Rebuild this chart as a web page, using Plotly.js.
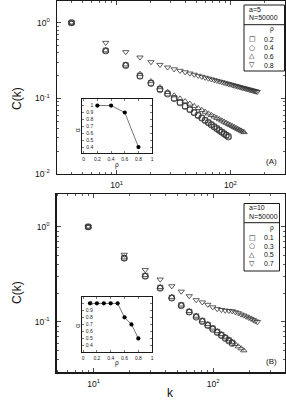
<!DOCTYPE html>
<html>
<head>
<meta charset="utf-8">
<script src="https://cdn.plot.ly/plotly-3.0.1.min.js"></script>
<style>html,body{margin:0;padding:0;background:#fff;}#chart{width:286px;height:401px;}</style>
</head>
<body>
<div id="chart"></div>
<script>
// ---------- Panel A (a=5, N=50000) ----------
const kA_02 = [4,8,12,16,20,24,28,32,36,40,44,48,52,56,60,64,68,72,76,80,84,88,92,96];
const cA_02 = [1.0,0.428,0.275,0.199,0.160,0.133,0.116,0.1005,0.0885,0.0792,0.0716,0.0653,0.0600,0.0555,0.0515,0.0481,0.0451,0.0424,0.0401,0.0379,0.0360,0.0343,0.0327,0.0313];
const kA_04 = [4,8,12,16,20,24,28,32,36,40,44,48,52,56,60,64,68,72,76,80,84,88,92,96];
const cA_04 = [1.0,0.424,0.271,0.196,0.157,0.130,0.114,0.0990,0.0873,0.0781,0.0706,0.0644,0.0591,0.0547,0.0508,0.0475,0.0445,0.0419,0.0396,0.0375,0.0356,0.0339,0.0323,0.0309];
const kA_06 = [4,8,12,16,20,24,28,32,36,40,44,48,52,56,60,64,68,72,76,80,84,88,92,96,100,104,108,112,116,120,124,128,132];
const cA_06 = [1.0,0.430,0.280,0.210,0.168,0.140,0.121,0.1089,0.0992,0.0913,0.0847,0.0790,0.0742,0.0700,0.0663,0.0630,0.0600,0.0574,0.0550,0.0528,0.0508,0.0490,0.0473,0.0457,0.0443,0.0429,0.0417,0.0405,0.0394,0.0383,0.0374,0.0364,0.0356];
const kA_08 = [4,8,12,16,20,24,28,32,36,40,44,48,52,56,60,64,68,72,76,80,84,88,92,96,100,104,108,112,116,120,124,128,132,136,140,144,148,152,156,160,164,168,172];
const cA_08 = [1.0,0.544,0.410,0.348,0.302,0.278,0.257,0.243,0.232,0.222,0.2136,0.206,0.1994,0.1934,0.188,0.1831,0.1786,0.1745,0.1707,0.1671,0.1638,0.1607,0.1578,0.1551,0.1525,0.150,0.1477,0.1456,0.1435,0.1415,0.1396,0.1378,0.1361,0.1344,0.1328,0.1313,0.1299,0.1285,0.1271,0.1258,0.1245,0.1233,0.1221];
const rhoA = [0.2,0.4,0.6,0.8];
const alphaA = [1.0,1.0,0.9,0.4];

// ---------- Panel B (a=10, N=50000) ----------
const kB_01 = [9,18,27,36,45,54,63,72,81,90,99,108,117,126,135,144];
const cB_01 = [1.0,0.471,0.305,0.229,0.180,0.150,0.128,0.1145,0.1028,0.0933,0.0855,0.0788,0.0733,0.0684,0.0643,0.0606];
const kB_03 = [9,18,27,36,45,54,63,72,81,90,99,108,117,126,135,144];
const cB_03 = [1.0,0.468,0.302,0.226,0.178,0.148,0.127,0.1123,0.1008,0.0915,0.0838,0.0773,0.0719,0.0671,0.0630,0.0594];
const kB_05 = [9,18,27,36,45,54,63,72,81,90,99,108,117,126,135,144,153,162,171,180];
const cB_05 = [1.0,0.475,0.310,0.232,0.183,0.152,0.130,0.116,0.104,0.095,0.087,0.080,0.0745,0.0697,0.0655,0.0617,0.0583,0.0553,0.0527,0.0502];
const kB_07 = [9,18,27,36,45,54,63,72,81,90,99,108,117,126,135,144,153,162,171,180,189,198,207,216,225,234];
const cB_07 = [1.0,0.51,0.352,0.28,0.238,0.209,0.187,0.170,0.161,0.152,0.143,0.137,0.134,0.132,0.131,0.130,0.127,0.124,0.120,0.117,0.114,0.111,0.108,0.105,0.102,0.100];
const rhoB = [0.1,0.2,0.3,0.4,0.5,0.6,0.7,0.8];
const alphaB = [1.0,1.0,1.0,1.0,1.0,0.8,0.7,0.5];

// tick labels
const xTickVals = [10,100];
const xTickText = ['10<sup>1</sup>','10<sup>2</sup>'];
const yTickValsA = [0.01,0.1,1];
const yTickTextA = ['10<sup>-2</sup>','10<sup>-1</sup>','10<sup>0</sup>'];
const yTickValsB = [0.1,1];
const yTickTextB = ['10<sup>-1</sup>','10<sup>0</sup>'];
const insetXTicks = [0,0.2,0.4,0.6,0.8,1];
const insetXText = ['0','0.2','0.4','0.6','0.8','1'];
const insetYTicks = [0.4,0.5,0.6,0.7,0.8,0.9,1];
const insetYText = ['0.4','0.5','0.6','0.7','0.8','0.9','1'];
const xMinor = [3,4,5,6,7,8,9,20,30,40,50,60,70,80,90,200,300,400];
const yMinor = [0.02,0.03,0.04,0.05,0.06,0.07,0.08,0.09,0.2,0.3,0.4,0.5,0.6,0.7,0.8,0.9];

const FONT = 'Liberation Sans, Arial, Helvetica, sans-serif';
const W = 286, H = 401;
const px = x => x / W;
const py = y => 1 - y / H;
const INK = '#1a1a1a';
const MK = '#333333';

function mkTrace(x, y, xa, ya, symbol, size) {
  return {x, y, xaxis: xa, yaxis: ya, type: 'scatter', mode: 'markers', showlegend: false,
    marker: {symbol, size, color: MK, line: {color: MK, width: 0.8}}, hoverinfo: 'skip'};
}
function mkInset(x, y, xa, ya) {
  return {x, y, xaxis: xa, yaxis: ya, type: 'scatter', mode: 'lines+markers', showlegend: false,
    line: {color: '#666', width: 0.9}, marker: {symbol: 'circle', size: 4.2, color: '#000'}, hoverinfo: 'skip'};
}

const data = [
  mkTrace(kA_02, cA_02, 'x', 'y', 'square-open', 5),
  mkTrace(kA_04, cA_04, 'x', 'y', 'circle-open', 6),
  mkTrace(kA_06, cA_06, 'x', 'y', 'triangle-up-open', 5.5),
  mkTrace(kA_08, cA_08, 'x', 'y', 'triangle-down-open', 5.5),
  mkInset(rhoA, alphaA, 'x2', 'y2'),
  mkTrace(kB_01, cB_01, 'x3', 'y3', 'square-open', 5),
  mkTrace(kB_03, cB_03, 'x3', 'y3', 'circle-open', 6),
  mkTrace(kB_05, cB_05, 'x3', 'y3', 'triangle-up-open', 5.5),
  mkTrace(kB_07, cB_07, 'x3', 'y3', 'triangle-down-open', 5.5),
  mkInset(rhoB, alphaB, 'x4', 'y4')
];

const tickFont = {family: FONT, size: 8.5, color: '#111'};
function mainAxis(domain, range, anchor, tickvals, ticktext, minorVals, isY) {
  return {type: 'log', domain, range, anchor, tickmode: 'array', tickvals, ticktext,
    ticks: 'inside', ticklen: 4, tickwidth: 0.8, tickcolor: INK, mirror: 'allticks',
    showline: true, linecolor: INK, linewidth: 1.2, showgrid: false, zeroline: false,
    tickfont: tickFont, ticklabelstandoff: isY ? 4 : 3,
    minor: {tickmode: 'array', tickvals: minorVals, ticks: 'inside', ticklen: 2, tickwidth: 0.7, tickcolor: INK, showgrid: false}};
}
const insetFont = {family: FONT, size: 5, color: '#222'};
function insetX(domain, anchor) {
  return {domain, anchor, range: [-0.02, 1.002], tickmode: 'array', tickvals: insetXTicks, ticktext: insetXText,
    ticks: 'inside', ticklen: 2, tickwidth: 0.6, tickcolor: INK, mirror: 'allticks', showline: true,
    linecolor: INK, linewidth: 1, showgrid: false, zeroline: false, tickfont: insetFont, ticklabelstandoff: 1};
}
function insetY(domain, anchor) {
  return {domain, anchor, range: [0.31, 1.095], tickmode: 'array', tickvals: insetYTicks, ticktext: insetYText,
    ticks: 'inside', ticklen: 2, tickwidth: 0.6, tickcolor: INK, mirror: 'allticks', showline: true,
    linecolor: INK, linewidth: 1, showgrid: false, zeroline: false, tickfont: insetFont,
    ticklabelposition: 'outside', ticklabelstandoff: -13};
}

const txt = (text, x, y, size, opts) => Object.assign({text, x: px(x), y: py(y), xref: 'paper', yref: 'paper',
  showarrow: false, font: {family: FONT, size, color: '#111'}, xanchor: 'center', yanchor: 'middle'}, opts || {});
const symFont = 'DejaVu Sans, sans-serif';
function legendAnn(top, aText, rhoVals) {
  const out = [];
  out.push(txt(aText, 246.5, top + 4, 7, {xanchor: 'left'}));
  out.push(txt('N=50000', 246.5, top + 12.5, 7, {xanchor: 'left'}));
  out.push(txt('ρ', 271.5, top + 24, 6.5));
  const syms = ['□', '○', '△', '▽'];
  for (let i = 0; i < 4; i++) {
    const yy = top + 34 + i * 8.7;
    out.push(Object.assign(txt(syms[i], 252.3, yy, 7), {font: {family: symFont, size: 7, color: '#111'}}));
    out.push(txt(rhoVals[i], 262, yy, 7, {xanchor: 'left'}));
  }
  return out;
}

const annotations = [
  txt('C(k)', 17, 99, 12, {textangle: -90}),
  txt('C(k)', 17, 293, 12, {textangle: -90}),
  txt('k', 170.5, 393, 12),
  txt('(A)', 271.7, 161.5, 8),
  txt('(B)', 271.7, 361, 8),
  txt('α', 77, 130, 6.5, {textangle: -90}),
  txt('ρ', 116.7, 164.5, 6.5),
  txt('α', 76.7, 326, 6.5, {textangle: -90}),
  txt('ρ', 116.7, 363, 6.5)
].concat(legendAnn(5, 'a=5', ['0.2', '0.4', '0.6', '0.8']))
 .concat(legendAnn(203.5, 'a=10', ['0.1', '0.3', '0.5', '0.7']));

const shapes = [
  {type: 'rect', xref: 'paper', yref: 'paper', x0: px(244), x1: px(284.5), y0: py(71), y1: py(5), line: {color: INK, width: 1}, fillcolor: '#fff', layer: 'above'},
  {type: 'line', xref: 'paper', yref: 'paper', x0: px(244), x1: px(284.5), y0: py(24.7), y1: py(24.7), line: {color: INK, width: 1}, layer: 'above'},
  {type: 'rect', xref: 'paper', yref: 'paper', x0: px(244), x1: px(279.5), y0: py(271), y1: py(203.5), line: {color: INK, width: 1}, fillcolor: '#fff', layer: 'above'},
  {type: 'line', xref: 'paper', yref: 'paper', x0: px(244), x1: px(279.5), y0: py(222.7), y1: py(222.7), line: {color: INK, width: 1}, layer: 'above'}
];

const layout = {
  width: W, height: H, margin: {l: 0, r: 0, t: 0, b: 0}, paper_bgcolor: '#fff', plot_bgcolor: '#fff',
  showlegend: false, font: {family: FONT, color: '#111'},
  xaxis: mainAxis([px(56.7), px(285)], [0.472, 2.48], 'y', xTickVals, xTickText, xMinor, false),
  yaxis: mainAxis([py(174), py(1)], [-2, 0.287], 'x', yTickValsA, yTickTextA, yMinor, true),
  xaxis2: insetX([px(82.3), px(152.3)], 'y2'),
  yaxis2: insetY([py(153.3), py(99)], 'x2'),
  xaxis3: mainAxis([px(56.5), px(285)], [0.689, 2.6], 'y3', xTickVals, xTickText, xMinor, false),
  yaxis3: mainAxis([py(372.3), py(194)], [-1.529, 0.345], 'x3', yTickValsB, yTickTextB, yMinor, true),
  xaxis4: insetX([px(81.7), px(152.3)], 'y4'),
  yaxis4: insetY([py(351.7), py(296.7)], 'x4'),
  annotations, shapes
};

Plotly.newPlot('chart', data, layout, {staticPlot: true, displayModeBar: false});
</script>
</body>
</html>
